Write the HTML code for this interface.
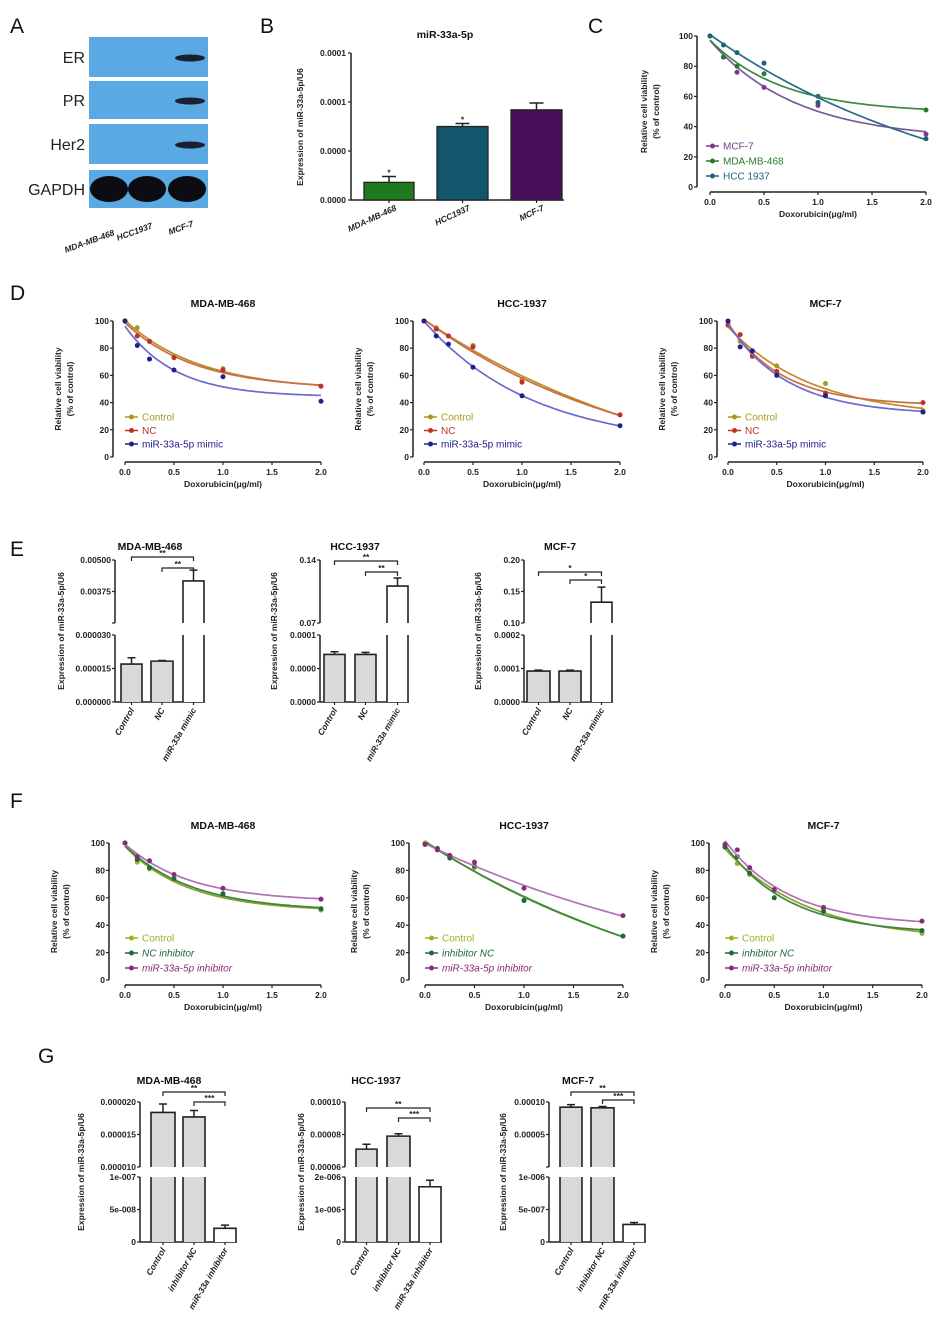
<!DOCTYPE html>
<html><head><meta charset="utf-8">
<style>
html,body{margin:0;padding:0;background:#fff;}
svg{display:block;font-family:"Liberation Sans",Arial,sans-serif;}
.t{font-size:8.5px;font-weight:bold;fill:#222;}
.ti{font-size:10.5px;font-weight:bold;fill:#111;}
.pl{font-size:21px;fill:#111;}
</style></head>
<body>
<svg id="fig" width="945" height="1330" viewBox="0 0 945 1330" xmlns="http://www.w3.org/2000/svg"></svg>
<script>
// ---------- DATA ----------
const doses=[0,0.125,0.25,0.5,1,2];
const xTickVals=[0,0.5,1,1.5,2];
const xTickLabels=["0.0","0.5","1.0","1.5","2.0"];
const yTickVals=[0,20,40,60,80,100];
// Panel B
const bCats=["MDA-MB-468","HCC1937","MCF-7"];
const bVals=[0.000018,0.000075,0.000092];
const bErr=[0.000024,0.000078,0.000099];
const bTickVals=[0,0.00005,0.0001,0.00015];
const bTickLabels=["0.0000","0.0000","0.0001","0.0001"];
// Panel C
const cMcf7=[100,86,76,66,54,35];
const cMda=[100,86,80,75,60,51];
const cHcc=[100,94,89,82,56,32];
// Panel D
const d1Control=[100,95,85,74,65,52], d1NC=[100,89,85,73,64,52], d1Mimic=[100,82,72,64,59,41];
const d2Control=[100,95,89,82,57,31], d2NC=[100,94,89,81,55,31], d2Mimic=[100,89,83,66,45,23];
const d3Control=[99,85,75,67,54,34], d3NC=[97,90,74,63,47,40], d3Mimic=[100,81,78,60,45,33];
// Panel F
const f1Control=[100,86,81,73,62,51], f1NC=[100,88,82,74,63,52], f1Inh=[100,90,87,77,67,59];
const f2Control=[100,96,90,82,58,32], f2NC=[99,96,89,83,58,32], f2Inh=[99,95,91,86,67,47];
const f3Control=[98,85,77,65,52,34], f3NC=[97,90,78,60,50,36], f3Inh=[99,95,82,66,53,43];
// Panel E
const eCats=["Control","NC","miR-33a mimic"];
const e1Vals=[0.000017,0.0000183,0.00417], e1Err=[0.0000198,0.0000186,0.0046];
const e2Vals=[0.000071,0.000071,0.111], e2Err=[0.000075,0.000074,0.12];
const e3Vals=[0.0000925,0.0000925,0.133], e3Err=[0.000095,0.000095,0.157];
const e1LowTicks=[0,0.000015,0.00003], e1LowLabels=["0.000000","0.000015","0.000030"];
const e1UpTicks=[0.0025,0.00375,0.005], e1UpLabels=["","0.00375","0.00500"];
const e2LowTicks=[0,0.00005,0.0001], e2LowLabels=["0.0000","0.0000","0.0001"];
const e2UpTicks=[0.07,0.14], e2UpLabels=["0.07","0.14"];
const e3LowTicks=[0,0.0001,0.0002], e3LowLabels=["0.0000","0.0001","0.0002"];
const e3UpTicks=[0.10,0.15,0.20], e3UpLabels=["0.10","0.15","0.20"];
// Panel G
const gCats=["Control","inhibitor NC","miR-33a inhibitor"];
const g1Vals=[0.0000184,0.0000177,2.1e-8], g1Err=[0.0000197,0.0000187,2.6e-8];
const g2Vals=[0.000071,0.000079,1.7e-6], g2Err=[0.000074,0.0000805,1.9e-6];
const g3Vals=[0.000092,0.000091,2.7e-7], g3Err=[0.000096,0.000093,3.0e-7];
const g1LowTicks=[0,5e-8,1e-7], g1LowLabels=["0","5e-008","1e-007"];
const g1UpTicks=[0.00001,0.000015,0.00002], g1UpLabels=["0.000010","0.000015","0.000020"];
const g2LowTicks=[0,1e-6,2e-6], g2LowLabels=["0","1e-006","2e-006"];
const g2UpTicks=[0.00006,0.00008,0.0001], g2UpLabels=["0.00006","0.00008","0.00010"];
const g3LowTicks=[0,5e-7,1e-6], g3LowLabels=["0","5e-007","1e-006"];
const g3UpTicks=[0,0.00005,0.0001], g3UpLabels=["","0.00005","0.00010"];

// ---------- HELPERS ----------
const NS="http://www.w3.org/2000/svg";
const fig=document.getElementById('fig');
function mk(tag,attrs,parent){const e=document.createElementNS(NS,tag);for(const k in attrs)e.setAttribute(k,attrs[k]);(parent||fig).appendChild(e);return e;}
function txt(s,attrs,parent){const e=mk('text',attrs,parent);e.textContent=s;return e;}
// least-squares fit y = a + b*exp(-k x)
function fitDecay(xs,ys){
  let best=null;
  for(let k=0.05;k<=8;k+=0.05){
    const e=xs.map(x=>Math.exp(-k*x));const n=xs.length;
    const se=e.reduce((s,v)=>s+v,0),sy=ys.reduce((s,v)=>s+v,0);
    const see=e.reduce((s,v)=>s+v*v,0),sey=e.reduce((s,v,i)=>s+v*ys[i],0);
    const den=n*see-se*se;if(Math.abs(den)<1e-9)continue;
    const b=(n*sey-se*sy)/den,a=(sy-b*se)/n;
    const err=ys.reduce((s,y,i)=>s+Math.pow(y-(a+b*e[i]),2),0);
    if(!best||err<best.err)best={a,b,k,err};
  }
  return x=>best.a+best.b*Math.exp(-best.k*x);
}

function panelLetter(s,x,y){const t=txt(s,{x:x,y:y,class:'pl'});

}

// ---------- LINE CHART ----------
function lineChart(c){
  const g=mk('g',{});
  
  
  const xs=d=>c.x0+d/2*(c.x2-c.x0), ys=v=>c.y0-v/100*(c.y0-c.y100);
  if(c.title){const t=txt(c.title,{x:(c.x0+c.x2)/2,y:c.y100-14,class:'ti','text-anchor':'middle'},g);
  
  }
  const ya=mk('path',{d:`M${c.ax},${c.y100} V${c.y0}`,stroke:'#222','stroke-width':1.5,fill:'none'},g);
  
  
  yTickVals.forEach(v=>{mk('line',{x1:c.ax-3,x2:c.ax,y1:ys(v),y2:ys(v),stroke:'#222','stroke-width':1.2},g);
    txt(String(v),{x:c.ax-4,y:ys(v)+3,class:'t','text-anchor':'end'},g);});
  const xy=c.y0+5;
  const xa=mk('path',{d:`M${c.x0},${xy} H${c.x2}`,stroke:'#222','stroke-width':1.5,fill:'none'},g);
  
  
  xTickVals.forEach((v,i)=>{mk('line',{x1:xs(v),x2:xs(v),y1:xy,y2:xy+3,stroke:'#222','stroke-width':1.2},g);
    txt(xTickLabels[i],{x:xs(v),y:xy+13,class:'t','text-anchor':'middle'},g);});
  const xt=txt('Doxorubicin(μg/ml)',{x:(c.x0+c.x2)/2,y:xy+25,class:'t','text-anchor':'middle','font-size':'9px'},g);
  
  
  const my=(c.y0+c.y100)/2;
  const yt=txt('Relative cell viability',{x:0,y:0,class:'t','text-anchor':'middle',transform:`translate(${c.ax-c.yt1},${my}) rotate(-90)`,'font-size':'9px'},g);
  
  
  txt('(% of control)',{x:0,y:0,class:'t','text-anchor':'middle',transform:`translate(${c.ax-c.yt1+12},${my}) rotate(-90)`,'font-size':'9px'},g);
  c.series.forEach((s,si)=>{
    const f=fitDecay(doses,s.data);
    let d="";
    for(let i=0;i<=80;i++){const x=2*i/80;d+=(i?"L":"M")+xs(x).toFixed(1)+","+ys(f(x)).toFixed(1);}
    const p=mk('path',{d:d,stroke:s.line,'stroke-width':1.7,fill:'none'},g);
    
    
    doses.forEach((dv,i)=>{const m=mk('circle',{cx:xs(dv),cy:ys(s.data[i]),r:2.5,fill:s.color},g);
      
      });
    const ly=c.legY+si*c.legDy;
    const le=mk('g',{},g);
    
    
    mk('line',{x1:c.legX,x2:c.legX+13,y1:ly,y2:ly,stroke:s.color,'stroke-width':1.5},le);
    mk('circle',{cx:c.legX+6.5,cy:ly,r:2.5,fill:s.color},le);
    txt(s.label,{x:c.legX+17,y:ly+3.5,fill:s.color,'font-size':'10px','font-style':s.italic?'italic':'normal'},le);
  });
}

// ---------- BROKEN BAR CHART ----------
function barChart(c){
  const g=mk('g',{});
  
  
  const L=c.low,U=c.up;
  const yl=v=>L.yb-(v-L.min)/(L.max-L.min)*(L.yb-L.yt);
  const yu=v=>U.yb-(v-U.min)/(U.max-U.min)*(U.yb-U.yt);
  const yv=v=>v<=L.max?yl(v):yu(v);
  const t=txt(c.title,{x:c.tx,y:c.ty,class:'ti','text-anchor':'middle','font-size':'11px'},g);
  
  
  const ax=mk('path',{d:`M${c.ax},${L.yb} V${L.yt} M${c.ax},${U.yb} V${U.yt}`,stroke:'#222','stroke-width':1.5,fill:'none'},g);
  
  
  c.lowTicks.forEach((v,i)=>{mk('line',{x1:c.ax-3,x2:c.ax,y1:yl(v),y2:yl(v),stroke:'#222','stroke-width':1.2},g);
    txt(c.lowLabels[i],{x:c.ax-4,y:yl(v)+3,class:'t','text-anchor':'end','font-size':'8px'},g);});
  c.upTicks.forEach((v,i)=>{mk('line',{x1:c.ax-3,x2:c.ax,y1:yu(v),y2:yu(v),stroke:'#222','stroke-width':1.2},g);
    txt(c.upLabels[i],{x:c.ax-4,y:yu(v)+3,class:'t','text-anchor':'end','font-size':'8px'},g);});
  const xa=mk('path',{d:`M${c.ax},${L.yb} H${c.bars[2][1]+1}`,stroke:'#222','stroke-width':1.5,fill:'none'},g);
  
  
  const yt=txt('Expression of miR-33a-5p/U6',{x:0,y:0,class:'t','text-anchor':'middle','font-size':'10px',transform:`translate(${c.ax-c.ytOff},${(U.yt+L.yb)/2}) rotate(-90)`},g);
  
  
  c.vals.forEach((v,i)=>{
    const [x1,x2]=c.bars[i], fill=i<2?'#d9d9d9':'#fff', cx=(x1+x2)/2;
    const bg=mk('g',{},g);
    
    
    let d;
    if(v<=L.max){const y=yl(v);mk('rect',{x:x1,y:y,width:x2-x1,height:L.yb-y,fill:fill},bg);d=`M${x1},${L.yb} V${y} H${x2} V${L.yb}`;}
    else{const y=yu(v);mk('rect',{x:x1,y:L.yt,width:x2-x1,height:L.yb-L.yt,fill:fill},bg);mk('rect',{x:x1,y:y,width:x2-x1,height:U.yb-y,fill:fill},bg);
      d=`M${x1},${L.yb} V${L.yt} M${x2},${L.yt} V${L.yb} M${x1},${U.yb} V${y} H${x2} V${U.yb}`;}
    mk('path',{d:d,stroke:'#222','stroke-width':1.6,fill:'none'},bg);
    const ey=yv(c.err[i]), ty=yv(v);
    mk('path',{d:`M${cx},${ty} V${ey} M${cx-4},${ey} H${cx+4}`,stroke:'#222','stroke-width':1.5,fill:'none'},bg);
    mk('line',{x1:cx,x2:cx,y1:L.yb,y2:L.yb+3,stroke:'#222','stroke-width':1.2},g);
    const lb=txt(c.cats[i],{x:0,y:0,class:'t','text-anchor':'end','font-style':'italic',transform:`translate(${cx+3},${L.yb+8}) rotate(-60)`},g);
    
    
  });
  c.brackets.forEach(b=>{
    const xa_=(c.bars[b[0]][0]+c.bars[b[0]][1])/2, xb=(c.bars[b[1]][0]+c.bars[b[1]][1])/2;
    const br=mk('path',{d:`M${xa_},${b[2]+4} V${b[2]} H${xb} V${b[2]+4}`,stroke:'#222','stroke-width':1.2,fill:'none'},g);
    
    
    txt(b[3],{x:(xa_+xb)/2,y:b[2]-1,class:'t','text-anchor':'middle','font-size':'8px'},g);
  });
}

// ---------- PANEL A ----------
panelLetter('A',10,33);
(function(){
  const g=mk('g',{});
  
  
  const rows=[["ER",37,77],["PR",81,119],["Her2",124,164],["GAPDH",170,208]];
  rows.forEach((r,i)=>{
    mk('rect',{x:89,y:r[1],width:119,height:r[2]-r[1],fill:'#5aa9e2'},g);
    const l=txt(r[0],{x:85,y:(r[1]+r[2])/2+6,'font-size':'16px',fill:'#222','text-anchor':'end'},g);
    
    
    if(i<3){mk('ellipse',{cx:190,cy:(r[1]+r[2])/2+1,rx:15,ry:3.5,fill:'#1a2030'},g);}
    else{[109,147,187].forEach(cx=>mk('ellipse',{cx:cx,cy:(r[1]+r[2])/2,rx:19,ry:13,fill:'#0c0c12'},g));}
  });
  [["MDA-MB-468",115,235],["HCC1937",153,228],["MCF-7",194,226]].forEach(a=>{
    txt(a[0],{x:0,y:0,class:'t','font-style':'italic','text-anchor':'end',transform:`translate(${a[1]},${a[2]}) rotate(-20)`},g);});
})();

// ---------- PANEL B ----------
panelLetter('B',260,33);
(function(){
  const g=mk('g',{});
  
  
  const ax=351, yb=200, yt=53, ys=v=>yb-v/0.00015*(yb-yt);
  const bx=[[364,414],[437,488],[511,562]], cols=['#1e7a1e','#11566a','#4a0f5a'];
  const t=txt('miR-33a-5p',{x:445,y:38,class:'ti','text-anchor':'middle','font-size':'11px'},g);
  
  
  mk('path',{d:`M${ax},${yt} V${yb} H${bx[2][1]+2}`,stroke:'#222','stroke-width':1.5,fill:'none'},g);
  bTickVals.forEach((v,i)=>{mk('line',{x1:ax-3,x2:ax,y1:ys(v),y2:ys(v),stroke:'#222','stroke-width':1.2},g);
    txt(bTickLabels[i],{x:ax-5,y:ys(v)+3,class:'t','text-anchor':'end'},g);});
  const yt2=txt('Expression of miR-33a-5p/U6',{x:0,y:0,class:'t','text-anchor':'middle','font-size':'11px',transform:`translate(303,127) rotate(-90)`},g);
  
  
  bVals.forEach((v,i)=>{
    const [x1,x2]=bx[i],cx=(x1+x2)/2,y=ys(v),ey=ys(bErr[i]);
    const r=mk('rect',{x:x1,y:y,width:x2-x1,height:yb-y,fill:cols[i],stroke:'#222','stroke-width':1.3},g);
    
    
    mk('path',{d:`M${cx},${y} V${ey} M${cx-7},${ey} H${cx+7}`,stroke:'#222','stroke-width':1.5,fill:'none'},g);
    if(i<2)txt('*',{x:cx,y:ey-1,class:'t','text-anchor':'middle','font-size':'10px'},g);
    mk('line',{x1:cx,x2:cx,y1:yb,y2:yb+3,stroke:'#222','stroke-width':1.2},g);
    txt(bCats[i],{x:0,y:0,class:'t','font-style':'italic','text-anchor':'end',transform:`translate(${cx+8},${yb+10}) rotate(-25)`},g);
  });
})();

// ---------- PANEL C ----------
panelLetter('C',588,33);
lineChart({name:'panel-c-viability',ax:697,x0:710,x2:926,y100:36,y0:187,yt1:50,legX:706,legY:146,legDy:15,
  series:[{key:'mcf7',label:'MCF-7',data:cMcf7,color:'#7a3a8c',line:'#7a5a9c'},
          {key:'mda',label:'MDA-MB-468',data:cMda,color:'#2a7a2a',line:'#3a8a4a'},
          {key:'hcc',label:'HCC 1937',data:cHcc,color:'#1a6478',line:'#2a6a8a'}]});

// ---------- PANEL D ----------
panelLetter('D',10,300);
const dSer=(a,b,c)=>[{key:'control',label:'Control',data:a,color:'#a49a20',line:'#c08a30'},
  {key:'nc',label:'NC',data:b,color:'#c0302a',line:'#c87040'},
  {key:'mimic',label:'miR-33a-5p mimic',data:c,color:'#20208a',line:'#6a6ad0'}];
lineChart({name:'panel-d-mda-mb-468',title:'MDA-MB-468',ax:113,x0:125,x2:321,y100:321,y0:457,yt1:52,legX:125,legY:417,legDy:13.5,series:dSer(d1Control,d1NC,d1Mimic)});
lineChart({name:'panel-d-hcc-1937',title:'HCC-1937',ax:413,x0:424,x2:620,y100:321,y0:457,yt1:52,legX:424,legY:417,legDy:13.5,series:dSer(d2Control,d2NC,d2Mimic)});
lineChart({name:'panel-d-mcf-7',title:'MCF-7',ax:717,x0:728,x2:923,y100:321,y0:457,yt1:52,legX:728,legY:417,legDy:13.5,series:dSer(d3Control,d3NC,d3Mimic)});

// ---------- PANEL E ----------
panelLetter('E',10,556);
const eL=(max)=>({min:0,max:max,yt:635,yb:702});
barChart({name:'panel-e-mda-mb-468',title:'MDA-MB-468',tx:150,ty:550,ax:115,ytOff:51,cats:eCats,vals:e1Vals,err:e1Err,
  bars:[[121,142],[151,173],[183,204]],low:eL(0.00003),up:{min:0.0025,max:0.005,yt:560,yb:623},
  lowTicks:e1LowTicks,lowLabels:e1LowLabels,upTicks:e1UpTicks,upLabels:e1UpLabels,brackets:[[0,2,557,'**'],[1,2,568,'**']]});
barChart({name:'panel-e-hcc-1937',title:'HCC-1937',tx:355,ty:550,ax:320,ytOff:43,cats:eCats,vals:e2Vals,err:e2Err,
  bars:[[324,345],[355,376],[387,408]],low:eL(0.0001),up:{min:0.07,max:0.14,yt:560,yb:623},
  lowTicks:e2LowTicks,lowLabels:e2LowLabels,upTicks:e2UpTicks,upLabels:e2UpLabels,brackets:[[0,2,561,'**'],[1,2,572,'**']]});
barChart({name:'panel-e-mcf-7',title:'MCF-7',tx:560,ty:550,ax:524,ytOff:43,cats:eCats,vals:e3Vals,err:e3Err,
  bars:[[527,550],[559,581],[591,612]],low:eL(0.0002),up:{min:0.10,max:0.20,yt:560,yb:623},
  lowTicks:e3LowTicks,lowLabels:e3LowLabels,upTicks:e3UpTicks,upLabels:e3UpLabels,brackets:[[0,2,572,'*'],[1,2,580,'*']]});

// ---------- PANEL F ----------
panelLetter('F',10,808);
const fSer=(a,b,c,n)=>[{key:'control',label:'Control',data:a,color:'#a0b020',line:'#8aa030'},
  {key:'nc-inhibitor',label:n,data:b,color:'#1f6a3a',line:'#3a8a3a',italic:true},
  {key:'inhibitor',label:'miR-33a-5p inhibitor',data:c,color:'#8a2a7a',line:'#b070b8',italic:true}];
lineChart({name:'panel-f-mda-mb-468',title:'MDA-MB-468',ax:109,x0:125,x2:321,y100:843,y0:980,yt1:52,legX:125,legY:938,legDy:15,series:fSer(f1Control,f1NC,f1Inh,'NC inhibitor')});
lineChart({name:'panel-f-hcc-1937',title:'HCC-1937',ax:409,x0:425,x2:623,y100:843,y0:980,yt1:52,legX:425,legY:938,legDy:15,series:fSer(f2Control,f2NC,f2Inh,'inhibitor NC')});
lineChart({name:'panel-f-mcf-7',title:'MCF-7',ax:709,x0:725,x2:922,y100:843,y0:980,yt1:52,legX:725,legY:938,legDy:15,series:fSer(f3Control,f3NC,f3Inh,'inhibitor NC')});

// ---------- PANEL G ----------
panelLetter('G',38,1063);
const gL=(max)=>({min:0,max:max,yt:1177,yb:1242});
barChart({name:'panel-g-mda-mb-468',title:'MDA-MB-468',tx:169,ty:1084,ax:140,ytOff:56,cats:gCats,vals:g1Vals,err:g1Err,
  bars:[[151,175],[183,205],[214,236]],low:gL(1e-7),up:{min:0.00001,max:0.00002,yt:1102,yb:1167},
  lowTicks:g1LowTicks,lowLabels:g1LowLabels,upTicks:g1UpTicks,upLabels:g1UpLabels,brackets:[[0,2,1092,'**'],[1,2,1102,'***']]});
barChart({name:'panel-g-hcc-1937',title:'HCC-1937',tx:376,ty:1084,ax:345,ytOff:41,cats:gCats,vals:g2Vals,err:g2Err,
  bars:[[356,377],[387,410],[419,441]],low:gL(2e-6),up:{min:0.00006,max:0.0001,yt:1102,yb:1167},
  lowTicks:g2LowTicks,lowLabels:g2LowLabels,upTicks:g2UpTicks,upLabels:g2UpLabels,brackets:[[0,2,1108,'**'],[1,2,1118,'***']]});
barChart({name:'panel-g-mcf-7',title:'MCF-7',tx:578,ty:1084,ax:549,ytOff:43,cats:gCats,vals:g3Vals,err:g3Err,
  bars:[[560,582],[591,614],[623,645]],low:gL(1e-6),up:{min:0,max:0.0001,yt:1102,yb:1167},
  lowTicks:g3LowTicks,lowLabels:g3LowLabels,upTicks:g3UpTicks,upLabels:g3UpLabels,brackets:[[0,2,1092,'**'],[1,2,1100,'***']]});
</script>
</body></html>
